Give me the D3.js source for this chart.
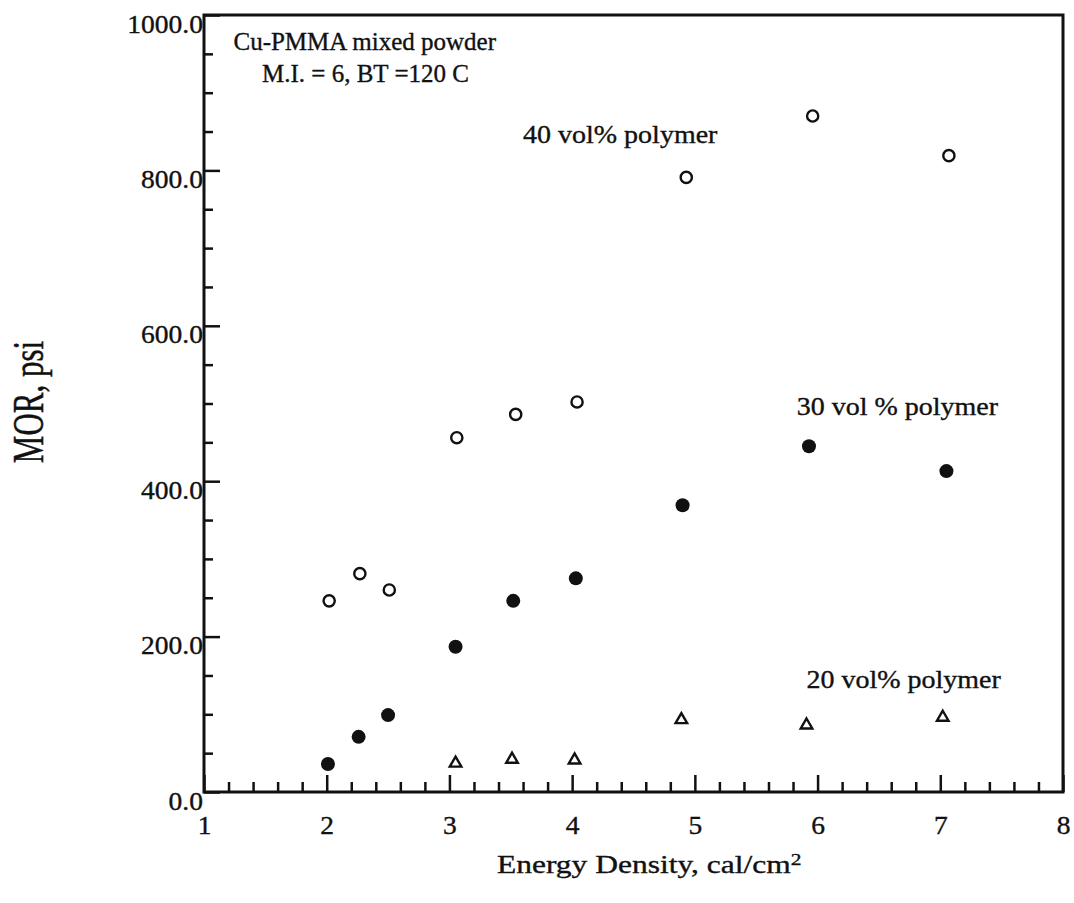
<!DOCTYPE html>
<html>
<head>
<meta charset="utf-8">
<script src="https://cdn.jsdelivr.net/npm/d3@7"></script>
<style>
  body { margin: 0; background: #fff; }
  svg text { font-family: "Liberation Serif", "Times New Roman", serif; fill: #111; stroke: #111; stroke-width: 0.35px; }
</style>
</head>
<body>
<div id="container"></div>
<script>
const width = 1074,
  height = 903,
  margin = { top: 15, right: 11, bottom: 111, left: 204 }

/* DATA */
// 40 vol% polymer (open circles)
const energy40 = [2.02, 2.27, 2.51, 3.06, 3.54, 4.04, 4.93, 5.96, 7.07]
const mor40 = [246, 281, 260, 456, 486, 502, 791, 870, 819]
// 30 vol% polymer (filled circles)
const energy30 = [2.01, 2.26, 2.50, 3.05, 3.52, 4.03, 4.90, 5.93, 7.05]
const mor30 = [36, 71, 99, 187, 246, 275, 369, 445, 413]
// 20 vol% polymer (triangles)
const energy20 = [3.05, 3.51, 4.02, 4.89, 5.91, 7.02]
const mor20 = [37, 42, 41, 93, 86, 96]

const xTicks = [1, 2, 3, 4, 5, 6, 7, 8]
const yTicks = [0, 200, 400, 600, 800, 1000]
const xMinor = d3.range(0, 36).filter(i => i % 5 !== 0).map(i => 1 + i * 0.2)
const yMinor = d3.range(0, 21).filter(i => i % 4 !== 0).map(i => i * 50)

// SCALES
const xScale = d3.scaleLinear()
  .domain([1, 8])
  .range([margin.left, width - margin.right])

const yScale = d3.scaleLinear()
  .domain([0, 1000])
  .range([height - margin.bottom, margin.top])

// SVG
const svg = d3.select("#container")
  .append("svg")
  .attr("width", width)
  .attr("height", height)
  .attr("font-family", "Liberation Serif")

// AXES (ticks point inward)
const yMinorAxis = d3.axisLeft(yScale).tickValues(yMinor).tickSizeInner(-9).tickSizeOuter(0).tickFormat("")
svg.append("g")
  .attr("transform", `translate(${margin.left},0)`)
  .call(yMinorAxis)

const yAxis = d3.axisLeft(yScale)
  .tickValues(yTicks)
  .tickSizeInner(-16)
  .tickSizeOuter(0)
  .tickPadding(1)
  .tickFormat(d3.format(".1f"))
svg.append("g")
  .attr("transform", `translate(${margin.left},0)`)
  .call(yAxis)
  .call(g => g.attr("font-family", null))
  .call(g => g.selectAll("text")
    .attr("dy", "0.68em")
    .attr("transform", "scale(1.1,1)")
    .style("font-size", "25px"))

const xMinorAxis = d3.axisBottom(xScale).tickValues(xMinor).tickSizeInner(-10).tickSizeOuter(0).tickFormat("")
svg.append("g")
  .attr("transform", `translate(0,${height - margin.bottom})`)
  .call(xMinorAxis)

const xAxis = d3.axisBottom(xScale)
  .tickValues(xTicks)
  .tickSizeInner(-17)
  .tickSizeOuter(0)
  .tickPadding(42)
  .tickFormat(d3.format("d"))
svg.append("g")
  .attr("transform", `translate(0,${height - margin.bottom})`)
  .call(xAxis)
  .call(g => g.attr("font-family", null))
  .call(g => g.selectAll("text")
    .attr("dy", "0")
    .attr("transform", "scale(1.1,1)")
    .style("font-size", "25px"))

svg.selectAll(".domain").remove()
svg.selectAll(".tick line").attr("stroke", "#111").attr("stroke-width", 2.5)

// FRAME
svg.append("rect")
  .attr("x", margin.left)
  .attr("y", margin.top)
  .attr("width", width - margin.left - margin.right)
  .attr("height", height - margin.top - margin.bottom)
  .attr("fill", "none")
  .attr("stroke", "#111")
  .attr("stroke-width", 3)

// AXIS TITLES
svg.append("text")
  .attr("transform", "translate(497,873) scale(1.26,1)")
  .style("font-size", "25px")
  .text("Energy Density, cal/cm")
  .append("tspan")
  .attr("dy", "-0.45em")
  .style("font-size", "17px")
  .text("2")

svg.append("text")
  .attr("transform", "translate(43,402) scale(1.4,1) rotate(-90)")
  .attr("text-anchor", "middle")
  .style("font-size", "31px")
  .text("MOR, psi")

// POINTS
const zip = (xs, ys) => xs.map((x, i) => ({ x, y: ys[i] }))

svg.selectAll(".p40")
  .data(zip(energy40, mor40))
  .join("circle")
  .attr("class", "p40")
  .attr("cx", d => xScale(d.x))
  .attr("cy", d => yScale(d.y))
  .attr("r", 5.6)
  .attr("fill", "none")
  .attr("stroke", "#111")
  .attr("stroke-width", 2.4)

svg.selectAll(".p30")
  .data(zip(energy30, mor30))
  .join("circle")
  .attr("class", "p30")
  .attr("cx", d => xScale(d.x))
  .attr("cy", d => yScale(d.y))
  .attr("r", 7)
  .attr("fill", "#111")

svg.selectAll(".p20")
  .data(zip(energy20, mor20))
  .join("path")
  .attr("class", "p20")
  .attr("transform", d => `translate(${xScale(d.x)},${yScale(d.y)})`)
  .attr("d", d3.symbol(d3.symbolTriangle, 58))
  .attr("fill", "none")
  .attr("stroke", "#111")
  .attr("stroke-width", 2.4)

// ANNOTATIONS
const notes = [
  { text: "Cu-PMMA mixed powder", x: 1.24, y: 955, sx: 1 },
  { text: "M.I. = 6, BT =120 C", x: 1.473, y: 914, sx: 1 },
  { text: "40 vol% polymer", x: 3.60, y: 835, sx: 1.12 },
  { text: "30 vol % polymer", x: 5.83, y: 485, sx: 1.12 },
  { text: "20 vol% polymer", x: 5.91, y: 134, sx: 1.12 }
]
svg.selectAll(".note")
  .data(notes)
  .join("text")
  .attr("class", "note")
  .attr("transform", d => `translate(${xScale(d.x)},${yScale(d.y)}) scale(${d.sx},1)`)
  .style("font-size", "25px")
  .text(d => d.text)
</script>
</body>
</html>
